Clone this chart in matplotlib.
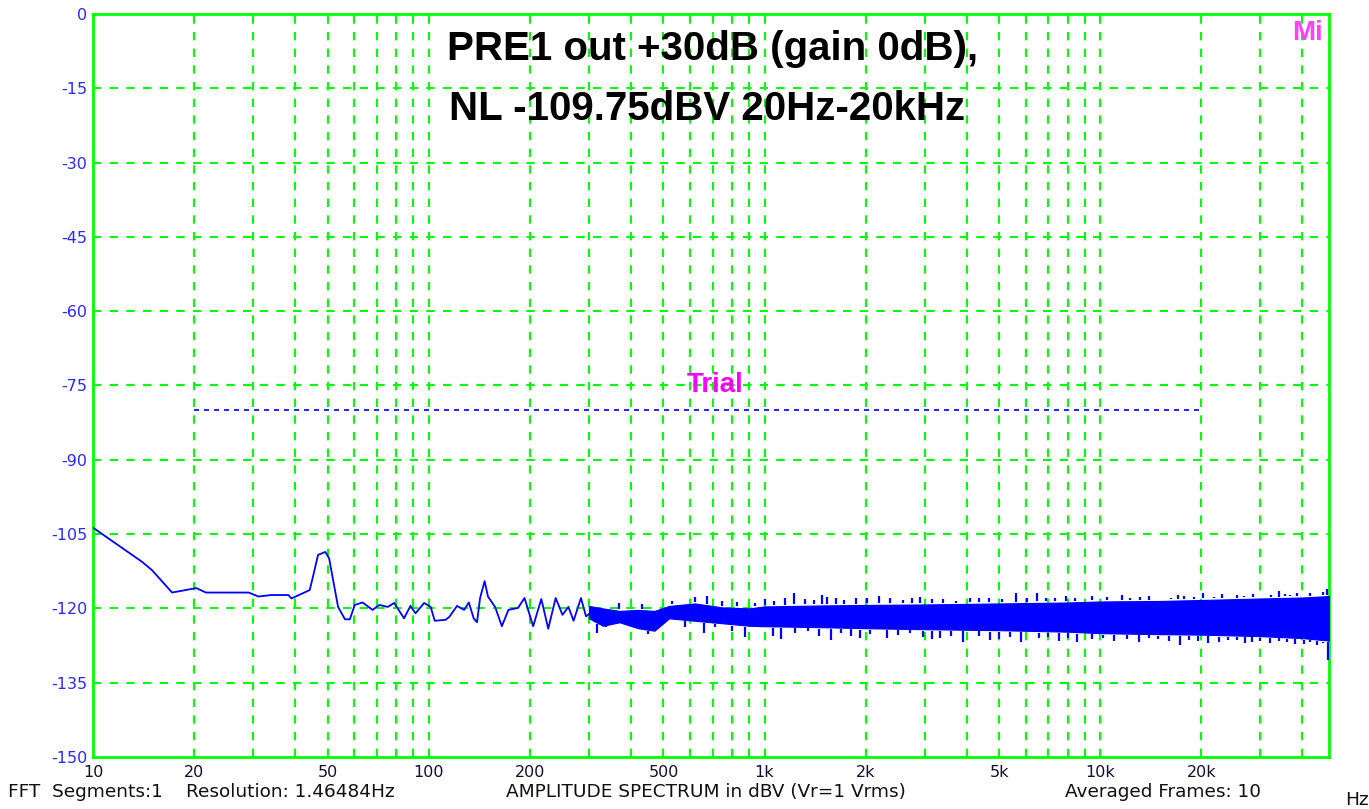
import numpy as np
import matplotlib
matplotlib.use("Agg")
import matplotlib.pyplot as plt
from matplotlib.ticker import FixedLocator, NullLocator

plt.rcParams['font.family'] = ['Liberation Sans', 'DejaVu Sans']

# ---- data ----
trace_freq = [10, 14.0, 15.0, 17.2, 20.3, 21.7, 25.9, 29.1, 31.1, 34.0, 38.2, 39.0,
              44.2, 45.2, 46.8, 49.2, 50.5, 51.9, 53.7, 56.3, 58.2, 60.2, 63.5,
              68.0, 71.3, 75.5, 78.9, 84.4, 88.2, 91.3, 96.9, 101.3, 104.2, 112.3,
              115.2, 121.4, 127.5, 131.6, 136.1, 139.2, 142.2, 146.7, 150.1, 157.6,
              165.1, 172.7, 184.5, 192.8, 204.6, 216.4, 226.9, 238.8, 250.2, 260.6,
              270, 284, 294, 302]
trace_db = [-103.7, -110.6, -112.3, -116.8, -115.9, -116.8, -116.8, -116.8, -117.6,
            -117.3, -117.3, -118.0, -116.3, -113.6, -109.2, -108.6, -109.9, -114.3,
            -119.7, -122.2, -122.2, -119.3, -118.8, -120.3, -119.3, -119.7, -118.9,
            -122.0, -119.5, -121.0, -118.9, -119.7, -122.5, -122.3, -121.7, -119.5,
            -120.3, -118.8, -122.0, -122.8, -117.9, -114.5, -117.6, -119.7, -123.6,
            -120.3, -119.9, -117.9, -123.6, -118.1, -124.1, -117.9, -121.3, -119.7,
            -122.5, -117.9, -121.6, -121.0]

band_freq = [300, 330, 370, 420, 470, 520, 620, 750, 900, 1000, 1500, 2000, 3000,
             5000, 8000, 10000, 15000, 20000, 30000, 40000, 48000]
band_hi = [-119.5, -120.0, -120.5, -120.3, -120.5, -119.5, -119.0, -119.8, -120.0,
           -119.6, -119.4, -119.3, -119.2, -119.0, -118.8, -118.6, -118.5, -118.3,
           -118.0, -117.8, -117.5]
band_lo = [-122.0, -123.5, -122.8, -124.0, -124.5, -122.0, -122.5, -123.0, -123.5,
           -123.6, -123.8, -124.0, -124.2, -124.4, -124.7, -125.0, -125.2, -125.3,
           -125.6, -126.0, -126.5]

spike_up_freq = [369, 432, 530, 567, 620, 672, 745, 830, 934, 1000, 1070, 1150, 1226,
                 1320, 1405, 1487, 1538, 1630, 1723, 1870, 2020, 2190, 2368, 2592, 2750,
                 2903, 3150, 3402, 3725, 4079, 4350, 4674, 5100, 5602, 6050, 6493, 6900,
                 7354, 7900, 8424, 9440, 10500, 11570, 12240, 13110, 14000, 14850, 16270,
                 17000, 17810, 19000, 20170, 21840, 23000, 24460, 25600, 26780, 28500,
                 30680, 32300, 33980, 35400, 36790, 38500, 40290, 42200, 44120, 46000, 47500]
spike_up_db = [-119.0, -119.2, -118.6, -119.0, -117.7, -117.5, -118.6, -118.8, -119.0,
               -118.2, -118.6, -118.0, -116.9, -118.2, -118.3, -117.3, -117.6, -118.0,
               -118.3, -117.9, -118.0, -117.5, -117.9, -118.4, -118.0, -117.6, -118.2,
               -118.2, -118.5, -118.0, -117.8, -117.9, -118.1, -116.9, -117.8, -116.9,
               -117.9, -118.0, -117.5, -117.8, -117.4, -117.6, -117.3, -118.0, -117.6,
               -117.4, -118.2, -117.8, -117.2, -117.5, -117.6, -116.8, -117.6, -117.1,
               -117.9, -117.3, -117.4, -117.0, -117.6, -117.2, -116.4, -117.0, -117.3,
               -116.9, -117.5, -116.8, -117.2, -116.6, -116.1]
spike_dn_freq = [318, 337, 404, 450, 580, 660, 712, 800, 873, 1000, 1060, 1120, 1230,
                 1343, 1450, 1574, 1690, 1804, 1930, 2067, 2315, 2500, 2713, 2970, 3150,
                 3326, 3600, 3897, 4366, 4700, 5004, 5400, 5796, 6568, 7000, 7524, 8000,
                 8520, 9440, 10200, 11000, 12000, 13000, 14000, 14850, 16000, 17300,
                 18400, 19500, 21000, 22500, 24000, 25500, 27000, 28300, 30000, 32000,
                 34000, 36000, 38000, 40300, 42000, 44100, 46000, 47600]
spike_dn_db = [-125.0, -123.5, -124.0, -125.1, -123.8, -125.0, -123.8, -124.5, -125.8,
               -124.0, -125.5, -126.1, -125.0, -124.6, -125.5, -126.4, -125.0, -125.5,
               -126.0, -125.2, -126.0, -125.3, -125.0, -125.8, -126.2, -126.0, -125.5,
               -126.7, -125.6, -126.3, -126.2, -125.8, -126.8, -126.0, -125.7, -126.5,
               -126.0, -126.8, -126.2, -126.0, -126.5, -126.2, -126.8, -126.0, -126.2,
               -126.6, -127.4, -126.4, -126.5, -126.9, -126.8, -126.3, -126.4, -127.0,
               -126.8, -126.5, -127.0, -126.6, -126.7, -127.2, -127.2, -126.8, -127.4,
               -127.0, -130.4]

xtick_vals = [10, 20, 50, 100, 200, 500, 1000, 2000, 5000, 10000, 20000]
xtick_labels = ['10', '20', '50', '100', '200', '500', '1k', '2k', '5k', '10k', '20k']
ytick_vals = [0, -15, -30, -45, -60, -75, -90, -105, -120, -135, -150]
trial_level = -80
trial_range = [20, 20000]

# ---- figure ----
W, H = 1369, 809
fig = plt.figure(figsize=(W / 100, H / 100), dpi=100)
ax = fig.add_axes([93 / W, 1 - 757 / H, (1329 - 93) / W, (757 - 14) / H])
ax.set_xscale('log')
ax.set_xlim(10, 48000)
ax.set_ylim(-150, 0)

green = '#00ff00'
grid_x = [v * d for d in (10, 100, 1000, 10000) for v in range(1, 10) if 10 < v * d < 48000]
for gx in grid_x:
    ax.axvline(gx, color=green, lw=1.5, ls=(0, (4, 4)), zorder=1)
for gy in ytick_vals[1:-1]:
    ax.axhline(gy, color=green, lw=1.5, ls=(0, (4, 4)), zorder=1)
for s in ax.spines.values():
    s.set_color(green)
    s.set_linewidth(2)

blue = '#0000ff'
ax.fill_between(band_freq, band_lo, band_hi, color=blue, lw=0.8, edgecolor=blue, zorder=3)
ax.plot(trace_freq, trace_db, color=blue, lw=1.3, zorder=4)
bmid = np.interp(np.log10(spike_up_freq), np.log10(band_freq), band_hi)
ax.vlines(spike_up_freq, bmid + 0.3, spike_up_db, color=blue, lw=1.6, zorder=4)
bmid2 = np.interp(np.log10(spike_dn_freq), np.log10(band_freq), band_lo)
ax.vlines(spike_dn_freq, spike_dn_db, bmid2 - 0.3, color=blue, lw=1.6, zorder=4)

ax.plot(trial_range, [trial_level, trial_level], color=blue, lw=1.2,
        ls=(0, (3, 3)), zorder=2)
ax.text(711, trial_level + 5.0, 'Trial', color='#ff00ff', fontsize=20,
        fontweight='bold', ha='center', va='center', zorder=5)

ax.xaxis.set_major_locator(FixedLocator(xtick_vals))
ax.xaxis.set_minor_locator(NullLocator())
ax.set_xticklabels(xtick_labels, family='DejaVu Sans')
ax.yaxis.set_major_locator(FixedLocator(ytick_vals))
ax.set_yticklabels([str(v) for v in ytick_vals], family='DejaVu Sans')
ax.tick_params(axis='x', length=0, pad=6, labelsize=11.5, labelcolor='#101030')
ax.tick_params(axis='y', length=0, pad=4, labelsize=11.5, labelcolor='#2828ff')

# title
fig.text(447 / W, 1 - 49 / H, 'PRE1 out +30dB (gain 0dB),', fontsize=29,
         fontweight='bold', ha='left', va='center', color='black')
fig.text(449 / W, 1 - 109 / H, 'NL -109.75dBV 20Hz-20kHz', fontsize=29,
         fontweight='bold', ha='left', va='center', color='black')
fig.text(1308 / W, 1 - 33 / H, 'Mi', fontsize=20, fontweight='bold',
         ha='center', va='center', color='#ff40ff')

# bottom info line
yb = 1 - 792 / H
bf = dict(fontsize=13.3, ha='left', va='center', color='#101010', family='DejaVu Sans')
fig.text(8 / W, yb, 'FFT  Segments:1', **bf)
fig.text(186 / W, yb, 'Resolution: 1.46484Hz', **bf)
fig.text(506 / W, yb, 'AMPLITUDE SPECTRUM in dBV (Vr=1 Vrms)', **bf)
fig.text(1065 / W, yb, 'Averaged Frames: 10', **bf)
fig.text(1345 / W, 1 - 800 / H, 'Hz', **bf)

fig.savefig('out.png', dpi=100)
